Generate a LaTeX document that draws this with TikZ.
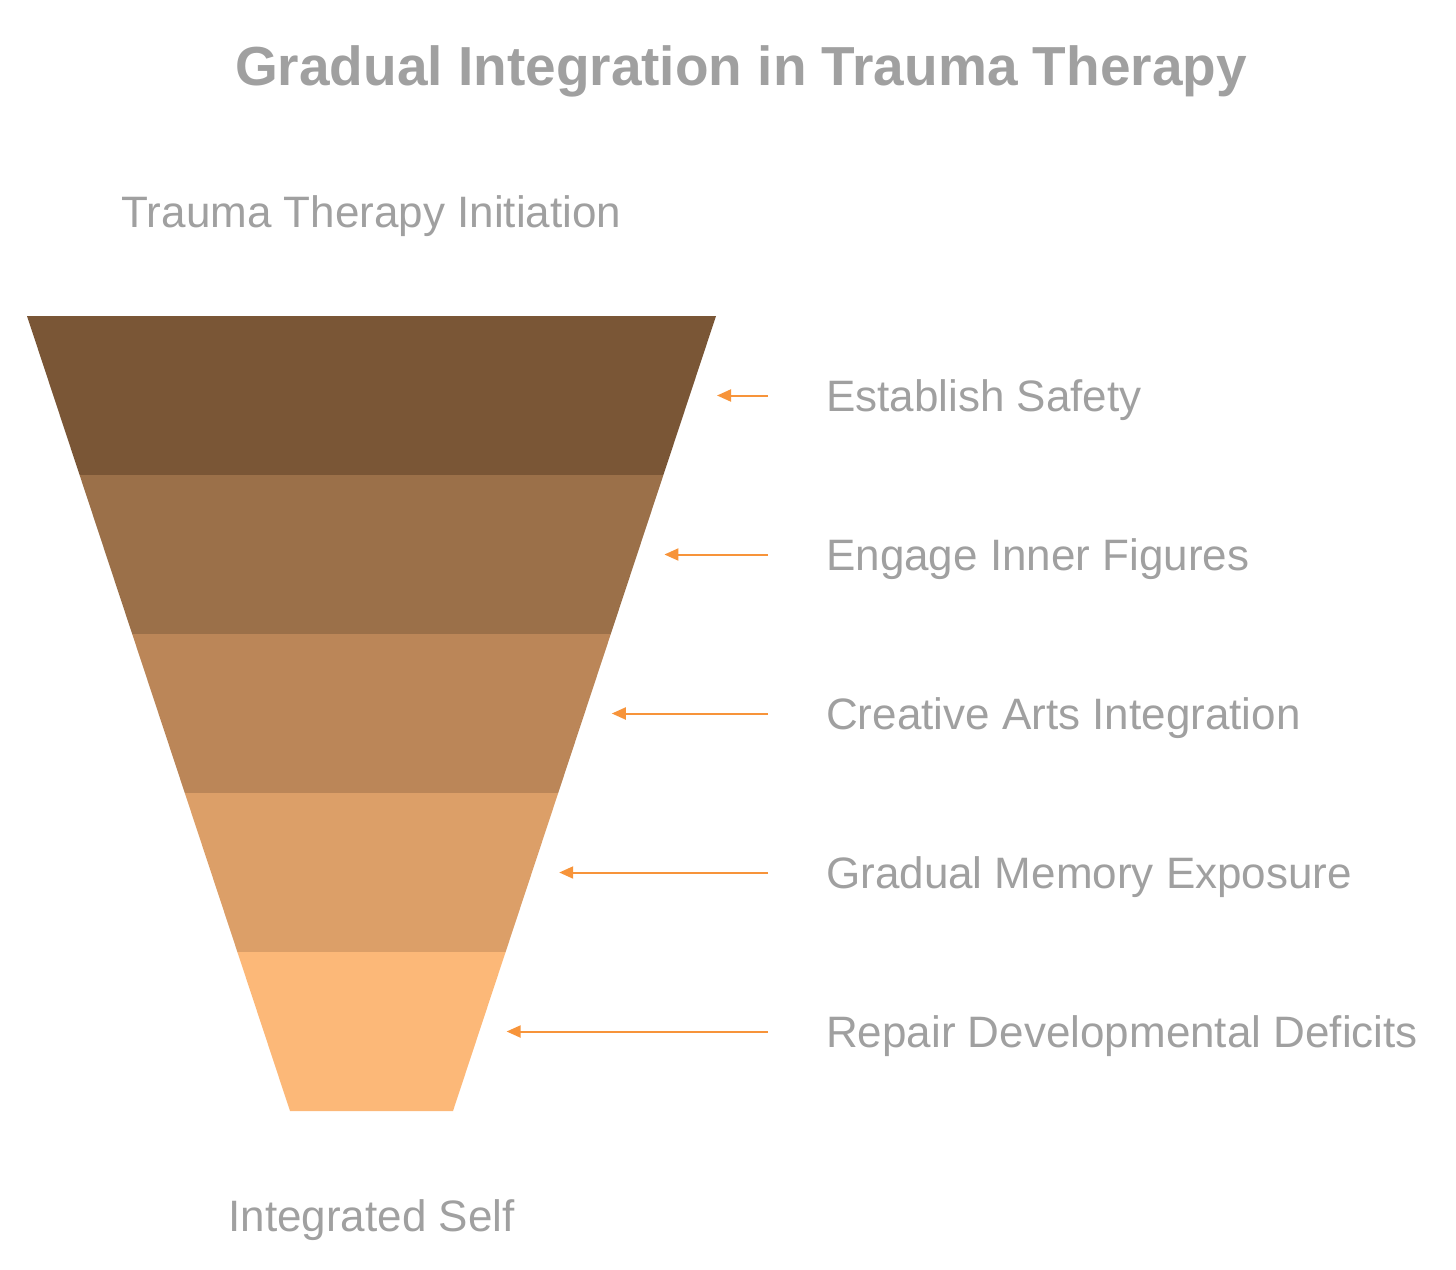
\documentclass[tikz,border=0pt]{standalone}
\usepackage{fontspec}
\setmainfont{Liberation Sans}
\usetikzlibrary{arrows.meta}
\definecolor{stageA}{HTML}{7A5636}
\definecolor{stageB}{HTML}{9B7049}
\definecolor{stageC}{HTML}{BB8658}
\definecolor{stageD}{HTML}{DC9F68}
\definecolor{stageE}{HTML}{FCB878}
\definecolor{labelgray}{HTML}{A0A0A0}
\definecolor{pointer}{HTML}{F7943A}
\tikzset{
  steplabel/.style={anchor=base west, inner sep=0pt, text=labelgray, font=\fontsize{44}{52}\selectfont},
  endlabel/.style={anchor=base, inner sep=0pt, text=labelgray, font=\fontsize{44}{52}\selectfont},
  pointarrow/.style={draw=pointer, line width=2pt, -{Triangle[length=14pt, width=12pt]}}
}
\begin{document}
\begin{tikzpicture}[x=1pt, y=-1pt]
	\useasboundingbox (0,0) rectangle (1456,1269);
	\node[anchor=base, inner sep=0pt, text=labelgray, font=\fontsize{55}{64}\selectfont\bfseries] (title) at (741,85) {Gradual Integration in Trauma Therapy};
	\node[endlabel] (start) at (371.5,227) {Trauma Therapy Initiation};
	\node[endlabel] (finish) at (371.5,1231) {Integrated Self};
	% funnel bands, top to bottom
	\foreach \k/\col/\txt in {0/stageA/Establish Safety, 1/stageB/Engage Inner Figures, 2/stageC/Creative Arts Integration, 3/stageD/Gradual Memory Exposure, 4/stageE/Repair Developmental Deficits}{
		\fill[\col] (27+52.6*\k,316+159*\k) -- (716-52.6*\k,316+159*\k) -- (716-52.6*\k-52.6,475+159*\k) -- (27+52.6*\k+52.6,475+159*\k) -- cycle;
		\coordinate (tip\k) at (717-52.6*\k,395.5+159*\k);
		\coordinate (tail\k) at (768,395.5+159*\k);
		\node[steplabel] (lab\k) at (826,411.5+159*\k) {\txt};
		\draw[pointarrow] (tail\k) -- (tip\k);
	}
\end{tikzpicture}
\end{document}
